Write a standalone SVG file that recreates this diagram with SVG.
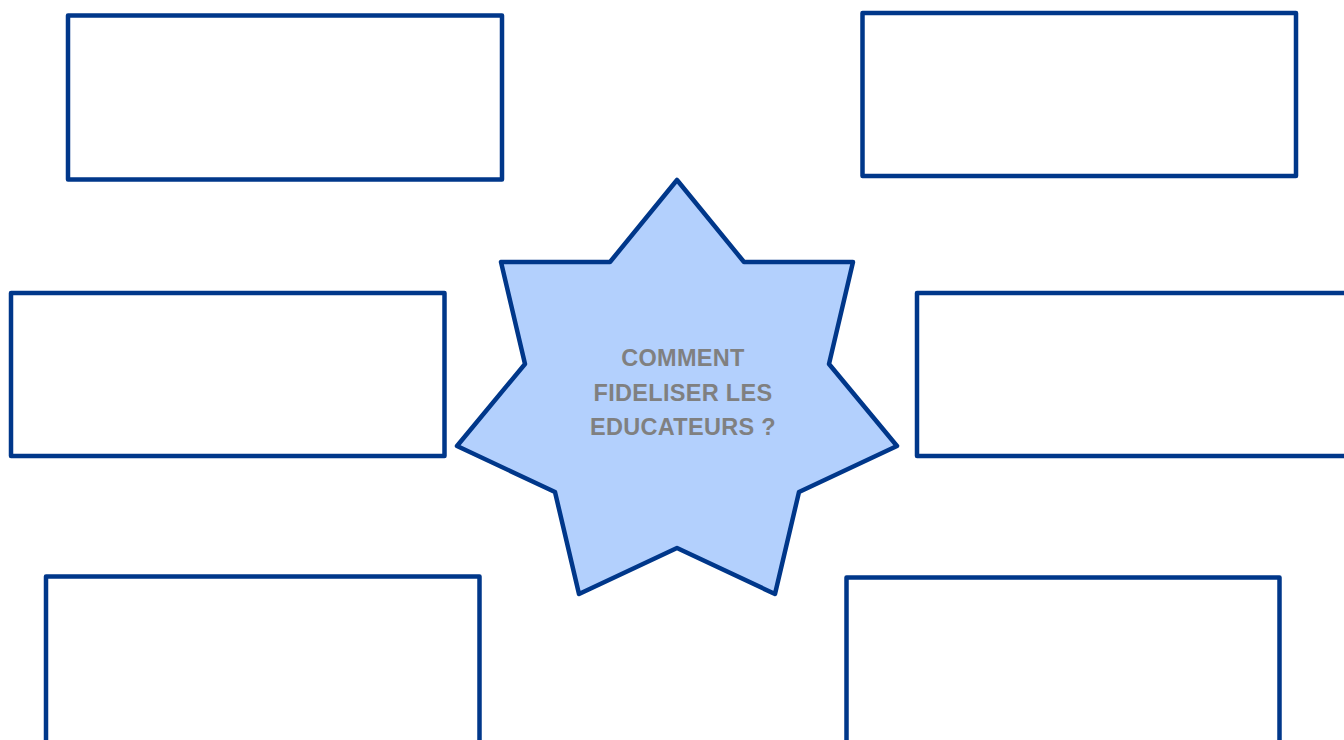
<svg xmlns="http://www.w3.org/2000/svg" width="1344" height="740" viewBox="0 0 1344 740">
<style>
.box{fill:#ffffff;stroke:#00378a;stroke-width:4.5;stroke-linejoin:round}
.star{fill:#b3d0fd;stroke:#00378a;stroke-width:4.5;stroke-linejoin:round}
.lbl{font-family:"Liberation Sans",Arial,sans-serif;font-weight:bold;font-size:23.5px;letter-spacing:0.3px;fill:#808080;text-anchor:middle}
</style>
<rect width="1344" height="740" fill="#ffffff"/>
<g id="box-top-left"><rect class="box" x="68" y="15.5" width="434" height="164"/></g>
<g id="box-top-right"><rect class="box" x="862.5" y="13" width="433.5" height="163"/></g>
<g id="box-mid-left"><rect class="box" x="11" y="293" width="433.5" height="163"/></g>
<g id="box-mid-right"><rect class="box" x="917" y="293" width="434" height="163"/></g>
<g id="box-bottom-left"><rect class="box" x="46" y="576.5" width="433.5" height="170"/></g>
<g id="box-bottom-right"><rect class="box" x="846.5" y="577.5" width="433" height="170"/></g>
<g id="star">
<polygon class="star" points="677,180 744,262 853,262 829,364 897,446 799,492 775,594 677,548 579,594 555,492 457,446 525,364 501,262 610,262"/>
<text class="lbl" x="683" y="366">COMMENT</text>
<text class="lbl" x="683" y="400.5">FIDELISER LES</text>
<text class="lbl" x="683" y="435">EDUCATEURS ?</text>
</g>
<g id="connectors"></g>
</svg>
